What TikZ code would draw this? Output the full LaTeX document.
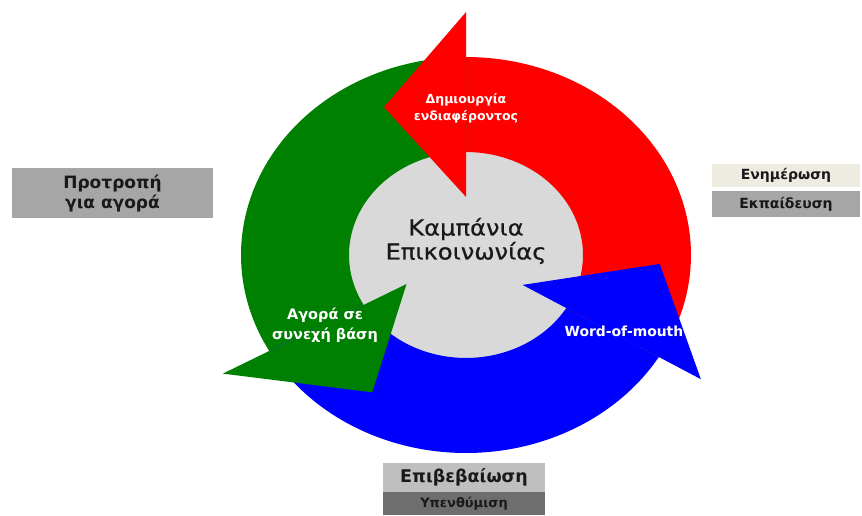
\documentclass[tikz,border=0pt]{standalone}
\usepackage{fontspec}
\setmainfont{DejaVu Sans}
\newfontfamily\hubfont[FakeStretch=1.1,FakeBold=0.6]{DejaVu Sans}
\definecolor{ringred}{RGB}{255,0,0}
\definecolor{ringgreen}{RGB}{0,128,0}
\definecolor{ringblue}{RGB}{0,0,255}
\definecolor{hubgray}{RGB}{217,217,217}
\definecolor{boxgray}{RGB}{166,166,166}
\definecolor{boxbeige}{RGB}{238,236,225}
\definecolor{boxlight}{RGB}{191,191,191}
\definecolor{boxdark}{RGB}{110,110,110}
\definecolor{inktext}{RGB}{25,25,25}
\begin{document}
\begin{tikzpicture}[x=1pt,y=1pt,
  arrowlbl/.style={text=white, align=center, inner sep=0pt},
  sidebox/.style={inner sep=0pt, align=center, text=inktext},
  ]
\useasboundingbox (0,0) rectangle (862,-515);
\fill[white] (0,0) rectangle (862,-515);

\begin{scope}[shift={(466,-255)}, yscale=0.88]
  % hub
  \fill[hubgray] (0,0) circle[radius=118];
  % bodies
  \fill[ringred] plot[domain=-31:90, samples=80] (\x:225) -- plot[domain=90:-31, samples=80] (\x:117) -- cycle;
  \fill[ringgreen] plot[domain=90:209, samples=80] (\x:225) -- plot[domain=209:90, samples=80] (\x:117) -- cycle;
  \fill[ringblue] plot[domain=209:329, samples=80] (\x:225) -- plot[domain=329:209, samples=80] (\x:117) -- cycle;
  % heads
  \fill[ringred] (90:66) -- (90:276) -- (116:187) -- cycle;
  \fill[ringgreen] (209:68) -- (209:278) -- (239:182) -- cycle;
  \fill[ringblue] (329:66) -- (329:274) -- (357:194) -- cycle;
\end{scope}

% centre text
\node[text=inktext, font=\hubfont\fontsize{22}{24}\selectfont, align=center, inner sep=0pt] (hub) at (466,-241) {Καμπάνια\\Επικοινωνίας};

% arrow labels
\node[arrowlbl, font=\bfseries\fontsize{12.5}{17}\selectfont] (lred) at (466,-108) {Δημιουργία\\ενδιαφέροντος};
\node[arrowlbl, font=\bfseries\fontsize{14.5}{20}\selectfont] (lgreen) at (325,-325) {Αγορά σε\\συνεχή βάση};
\node[arrowlbl, font=\bfseries\fontsize{13.9}{17}\selectfont] (lblue) at (624,-331) {Word-of-mouth};

% side boxes
\node[sidebox, fill=boxgray, minimum width=201pt, minimum height=50pt, font=\bfseries\fontsize{17}{20}\selectfont] (buy) at (112.5,-193) {Προτροπή\\για αγορά};
\node[sidebox, fill=boxbeige, minimum width=148pt, minimum height=23pt, font=\bfseries\fontsize{14}{16}\selectfont] (inform) at (786,-175.5) {Ενημέρωση};
\node[sidebox, fill=boxgray, minimum width=148pt, minimum height=26pt, font=\bfseries\fontsize{14}{16}\selectfont] (educ) at (786,-204) {Εκπαίδευση};
\node[sidebox, fill=boxlight, minimum width=162pt, minimum height=29pt, font=\bfseries\fontsize{17.5}{20}\selectfont] (confirm) at (464,-477.5) {Επιβεβαίωση};
\node[sidebox, fill=boxdark, minimum width=162pt, minimum height=23pt, font=\bfseries\fontsize{13}{15}\selectfont] (remind) at (464,-503.5) {Υπενθύμιση};
\end{tikzpicture}
\end{document}
